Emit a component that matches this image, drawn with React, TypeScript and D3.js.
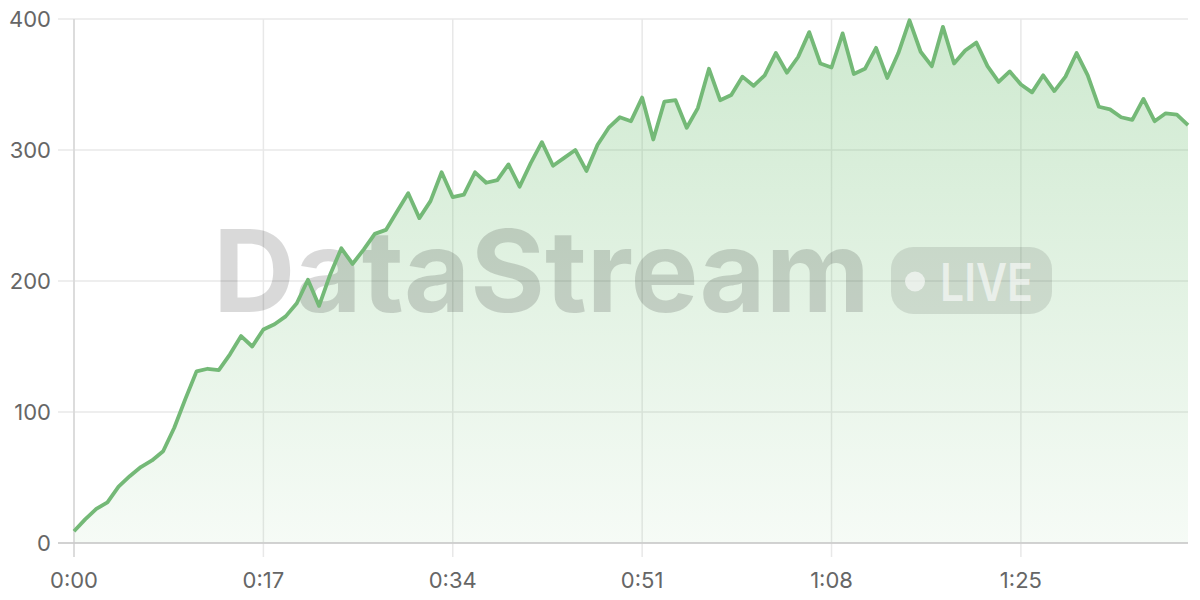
import React from "react";
import * as d3 from "d3";

// one sample per second, 0..100 s
const seconds = d3.range(0, 101);
const values = [
  9, 18, 26, 31, 43, 51, 58, 63, 70, 88,
  110, 131, 133, 132, 144, 158, 150, 163, 167, 173,
  183, 201, 181, 205, 225, 213, 224, 236, 239, 253,
  267, 248, 261, 283, 264, 266, 283, 275, 277, 289,
  272, 290, 306, 288, 294, 300, 284, 304, 317, 325,
  322, 340, 308, 337, 338, 317, 332, 362, 338, 342,
  356, 349, 357, 374, 359, 371, 390, 366, 363, 389,
  358, 362, 378, 355, 374, 399, 375, 364, 394, 366,
  376, 382, 364, 352, 360, 350, 344, 357, 345, 356,
  374, 357, 333, 331, 325, 323, 339, 322, 328, 327,
  319,
];
const xTicks = [0, 17, 34, 51, 68, 85];
const yTicks = [0, 100, 200, 300, 400];

const W = 1200;
const H = 600;
const margin = { top: 19, right: 12, bottom: 57, left: 74 };
const FONT = "Inter, 'Noto Sans', sans-serif";

const fmt = (s: number) => `${Math.floor(s / 60)}:${String(s % 60).padStart(2, "0")}`;

const App: React.FC = () => {
  const x = d3
    .scaleLinear()
    .domain([0, 100])
    .range([margin.left, W - margin.right]);
  const y = d3
    .scaleLinear()
    .domain([0, 400])
    .range([H - margin.bottom, margin.top]);

  const pts = seconds.map((s, i) => ({ s, v: values[i] }));
  const line = d3
    .line<{ s: number; v: number }>()
    .x((d) => x(d.s))
    .y((d) => y(d.v));
  const area = d3
    .area<{ s: number; v: number }>()
    .x((d) => x(d.s))
    .y0(y(0))
    .y1((d) => y(d.v));

  const x0 = x(0);
  const x1 = x(100);
  const yb = y(0);

  return (
    <svg
      width={W}
      height={H}
      style={{ position: "absolute", left: 0, top: 0, background: "#fff" }}
    >
      <defs>
        <linearGradient id="fillGrad" x1="0" y1={y(400)} x2="0" y2={yb} gradientUnits="userSpaceOnUse">
          <stop offset="0%" stopColor="#66bb6a" stopOpacity={0.32} />
          <stop offset="100%" stopColor="#66bb6a" stopOpacity={0.06} />
        </linearGradient>
      </defs>

      {/* grid */}
      {yTicks.map((t) => (
        <line key={"gy" + t} x1={x0 - 16} x2={x1} y1={y(t)} y2={y(t)} stroke="#e8e8e8" strokeWidth={1.5} />
      ))}
      {xTicks.map((t) => (
        <line key={"gx" + t} x1={x(t)} x2={x(t)} y1={y(400)} y2={yb + 14} stroke="#e8e8e8" strokeWidth={1.5} />
      ))}

      {/* area */}
      <path d={area(pts) ?? ""} fill="url(#fillGrad)" />

      {/* watermark */}
      <g fontFamily={FONT} fontWeight={700}>
        <text x={213} y={312} fontSize={114} fill="#000" fillOpacity={0.15} textLength={657} lengthAdjust="spacingAndGlyphs">
          DataStream
        </text>
        <rect x={891} y={247} width={161} height={67} rx={22} fill="#000" fillOpacity={0.1} />
        <circle cx={915} cy={281.5} r={10} fill="#fff" fillOpacity={0.6} />
        <text x={940} y={301} fontSize={52} fontWeight={600} fill="#fff" fillOpacity={0.6} textLength={93} lengthAdjust="spacingAndGlyphs">
          LIVE
        </text>
      </g>

      {/* axes */}
      <line x1={x0} x2={x0} y1={y(400)} y2={yb + 14} stroke="#d6d6d6" strokeWidth={1.5} />
      <line x1={x0 - 16} x2={x1} y1={yb} y2={yb} stroke="#c8c8c8" strokeWidth={1.5} />

      <path d={line(pts) ?? ""} fill="none" stroke="#74b977" strokeWidth={3.8} strokeLinejoin="round" />

      <g fontFamily={FONT} fontSize={22} fill="#666">
        {yTicks.map((t) => (
          <text key={"ly" + t} x={51} y={y(t)} dy="0.36em" textAnchor="end">
            {t}
          </text>
        ))}
        {xTicks.map((t) => (
          <text key={"lx" + t} x={x(t)} y={588} textAnchor="middle">
            {fmt(t)}
          </text>
        ))}
      </g>
    </svg>
  );
};

export default App;
